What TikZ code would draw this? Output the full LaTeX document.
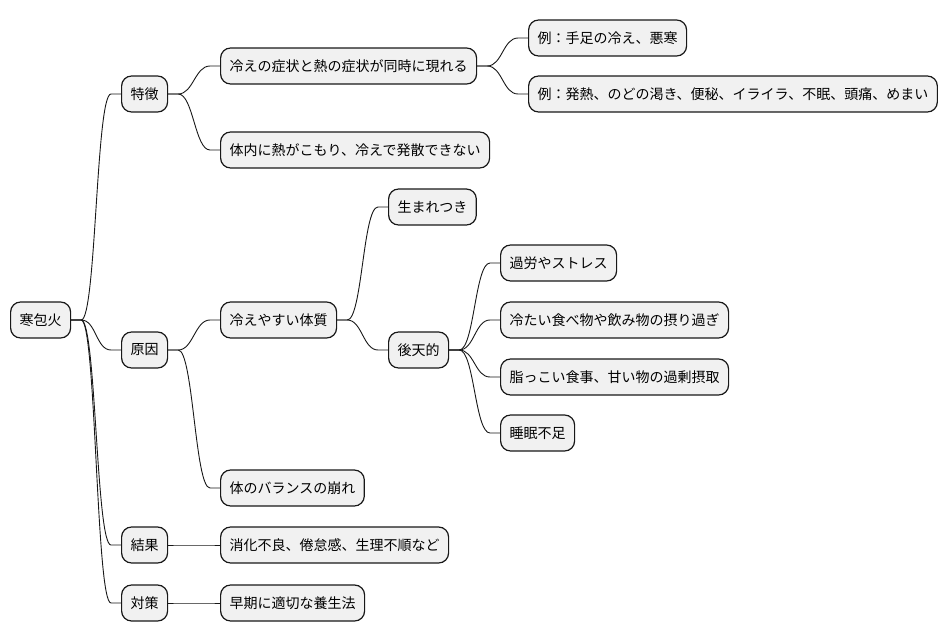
\documentclass[tikz,border=0pt]{standalone}
\usepackage{xcolor}
\usepackage{tikz}
\usepackage{fontspec}
\setmainfont{Noto Sans CJK JP}
\definecolor{mmfill}{HTML}{F1F1F1}
\definecolor{mmline}{HTML}{181818}
\tikzset{
  box/.style={draw=mmline,fill=mmfill,line width=1.2pt,rounded corners=10pt,
    minimum height=36pt,inner xsep=9pt,inner ysep=0pt,anchor=west,
    font=\fontsize{14pt}{16pt}\selectfont},
  edge/.style={draw=mmline,line width=0.9pt}
}
\newcommand{\branch}[2]{\draw[edge] (#1.east) -- ++(10,0)
  .. controls +(15,0) and +(-15,0) .. ([xshift=-10pt]#2.west) -- (#2.west);}

\begin{document}
\begin{tikzpicture}[x=1pt,y=-1pt]
  \useasboundingbox (0,0) rectangle (950,640);
  % root and first level
  \node[box] (root) at (10,320) {寒包火};
  \node[box] (tokucho) at (121,94) {特徴};
  \node[box] (genin) at (121,350) {原因};
  \node[box] (kekka) at (121,545) {結果};
  \node[box] (taisaku) at (121,603) {対策};
  % 特徴
  \node[box] (doji) at (220,66) {冷えの症状と熱の症状が同時に現れる};
  \node[box] (hassan) at (220,150) {体内に熱がこもり、冷えで発散できない};
  \node[box] (rei1) at (528,38) {例：手足の冷え、悪寒};
  \node[box] (rei2) at (528,94) {例：発熱、のどの渇き、便秘、イライラ、不眠、頭痛、めまい};
  % 原因
  \node[box] (taishitsu) at (220,320) {冷えやすい体質};
  \node[box] (balance) at (220,488) {体のバランスの崩れ};
  \node[box] (umare) at (388,207) {生まれつき};
  \node[box] (koten) at (388,350) {後天的};
  \node[box] (karo) at (500,263) {過労やストレス};
  \node[box] (tsumetai) at (500,320) {冷たい食べ物や飲み物の摂り過ぎ};
  \node[box] (abura) at (500,377) {脂っこい食事、甘い物の過剰摂取};
  \node[box] (suimin) at (500,433) {睡眠不足};
  % 結果, 対策
  \node[box] (shoka) at (220,545) {消化不良、倦怠感、生理不順など};
  \node[box] (yojo) at (220,603) {早期に適切な養生法};

  \branch{root}{tokucho}
  \branch{root}{genin}
  \branch{root}{kekka}
  \branch{root}{taisaku}
  \branch{tokucho}{doji}
  \branch{tokucho}{hassan}
  \branch{doji}{rei1}
  \branch{doji}{rei2}
  \branch{genin}{taishitsu}
  \branch{genin}{balance}
  \branch{taishitsu}{umare}
  \branch{taishitsu}{koten}
  \branch{koten}{karo}
  \branch{koten}{tsumetai}
  \branch{koten}{abura}
  \branch{koten}{suimin}
  \branch{kekka}{shoka}
  \branch{taisaku}{yojo}
\end{tikzpicture}
\end{document}
